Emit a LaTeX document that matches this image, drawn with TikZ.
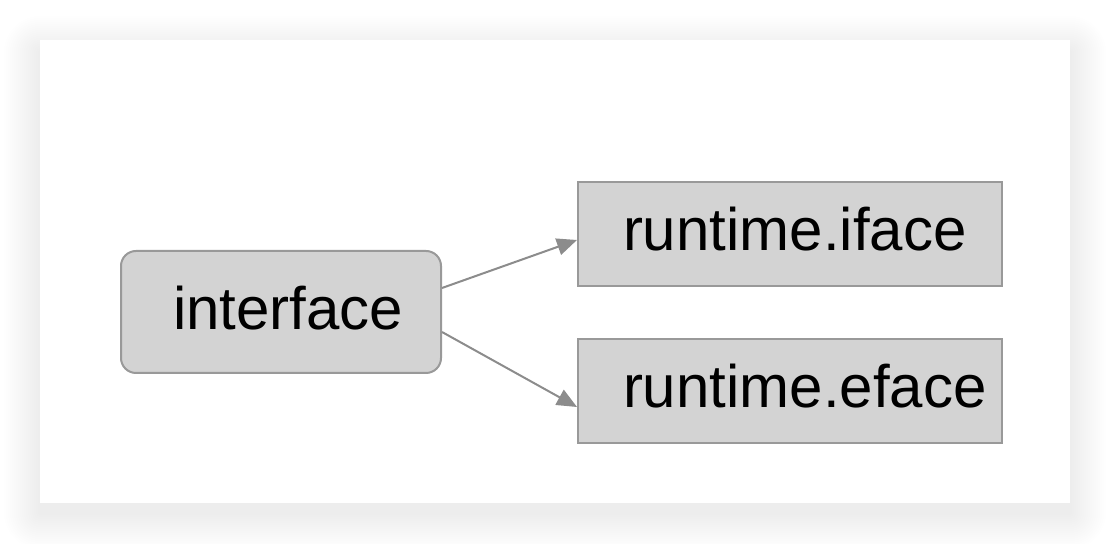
\documentclass[tikz,border=0pt]{standalone}
\usepackage{fontspec}
\setmainfont{Liberation Sans}
\usetikzlibrary{arrows.meta}

\definecolor{boxfill}{HTML}{D3D3D3}
\definecolor{boxline}{HTML}{999999}
\definecolor{linkgray}{HTML}{8C8C8C}

\begin{document}
\begin{tikzpicture}[x=0.5pt, y=-0.5pt,
        typebox/.style={draw=boxline, fill=boxfill, line width=1pt, align=left,
            text depth=5pt, font=\fontsize{30pt}{36pt}\selectfont},
        rtbox/.style={typebox, text width=167pt, inner xsep=22.5pt, minimum height=52pt},
        link/.style={draw=linkgray, line width=1pt, -{Triangle[length=10pt, width=8.5pt]}}]
     \fill[white] (0,0) rectangle (1110,544);
     \useasboundingbox (0,0) rectangle (1110,544);
     % soft shadow under the card
     \foreach \d in {1,...,18}
        \fill[black, opacity=0.005, rounded corners=\d pt]
            (40-2*\d, 52-2*\d) rectangle (1070+2*\d, 513+2*\d);
     \fill[white] (40,40) rectangle (1070,503);
     % source and the two runtime types
     \node[typebox, rounded corners=7.5pt, text width=108pt, inner xsep=26pt,
        text depth=4pt, minimum height=61pt] (intf) at (281,312) {interface};
     \node[rtbox] (iface) at (790,234) {runtime.iface};
     \node[rtbox] (eface) at (790,391) {runtime.eface};
     \draw[link] ([yshift=12pt]intf.east) -- ([yshift=-3pt]iface.west);
     \draw[link] ([yshift=-10pt]intf.east) -- ([yshift=-8pt]eface.west);
\end{tikzpicture}
\end{document}
